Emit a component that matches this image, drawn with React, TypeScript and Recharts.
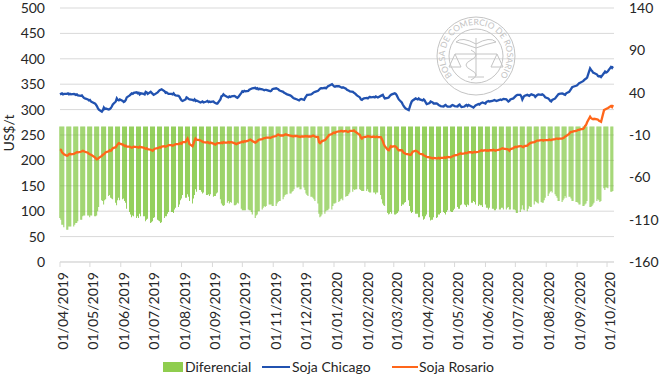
import React from 'react';
import { ComposedChart, Bar, Line, XAxis, YAxis, CartesianGrid } from 'recharts';

// Daily series, one value per trading day (Mon–Fri) starting 01/04/2019.
const seriesStart = '01/04/2019';

// Soja Chicago, US$/t
const sojaChicago = [
  330, 331, 332, 330, 331, 331, 332, 330, 331, 330, 331, 330, 329, 330, 328, 327, 328, 325, 323, 322,
  320, 318, 319, 316, 315, 312, 310, 307, 303, 300, 296, 299, 304, 301, 302, 300, 301, 303, 306, 310,
  316, 322, 319, 318, 320, 317, 315, 316, 319, 324, 328, 330, 332, 331, 333, 334, 332, 333, 330, 332,
  331, 330, 335, 334, 331, 335, 333, 331, 329, 330, 334, 336, 338, 339, 340, 336, 333, 334, 332, 331,
  331, 330, 332, 329, 328, 327, 325, 321, 318, 317, 320, 324, 323, 321, 320, 319, 318, 320, 317, 318,
  315, 314, 315, 316, 314, 316, 317, 315, 316, 315, 316, 314, 313, 312, 312, 320, 326, 327, 330, 328,
  325, 324, 326, 325, 326, 327, 326, 324, 323, 325, 333, 336, 335, 337, 336, 337, 339, 340, 341, 342,
  343, 341, 342, 340, 341, 340, 339, 338, 339, 339, 337, 336, 337, 340, 341, 342, 341, 340, 338, 337,
  335, 333, 332, 331, 330, 328, 327, 325, 323, 322, 320, 319, 318, 320, 321, 319, 323, 326, 329, 329,
  330, 331, 333, 334, 335, 337, 339, 341, 342, 342, 343, 342, 344, 346, 347, 350, 348, 346, 345, 346,
  346, 345, 344, 343, 344, 341, 339, 338, 337, 336, 335, 333, 332, 330, 328, 324, 320, 319, 321, 322,
  323, 322, 324, 325, 324, 325, 324, 326, 325, 324, 327, 328, 329, 325, 322, 323, 324, 327, 329, 330,
  332, 331, 328, 324, 320, 314, 310, 307, 304, 302, 299, 305, 311, 316, 318, 322, 321, 320, 322, 320,
  318, 320, 318, 314, 311, 313, 316, 315, 314, 312, 312, 311, 309, 308, 307, 306, 308, 309, 307, 306,
  306, 308, 309, 308, 307, 306, 309, 310, 307, 305, 306, 308, 309, 307, 309, 306, 305, 304, 306, 308,
  311, 310, 312, 313, 314, 312, 315, 316, 317, 316, 317, 318, 319, 318, 317, 319, 320, 319, 320, 321,
  320, 318, 316, 317, 320, 322, 324, 326, 328, 329, 329, 326, 320, 324, 327, 329, 328, 327, 329, 330,
  328, 325, 327, 329, 330, 329, 330, 329, 327, 324, 322, 320, 317, 316, 319, 322, 325, 327, 330, 331,
  332, 331, 330, 329, 332, 335, 338, 341, 344, 345, 347, 348, 350, 352, 353, 356, 358, 360, 361, 363,
  381, 378, 376, 373, 372, 369, 366, 365, 366, 364, 372, 375, 373, 374, 376, 384, 382, 385,
];

// Soja Rosario, US$/t
const sojaRosario = [
  222, 221, 216, 214, 212, 209, 210, 212, 213, 212, 213, 214, 215, 216, 216, 217, 218, 219, 218, 217,
  215, 213, 212, 211, 210, 206, 204, 202, 203, 205, 209, 211, 212, 214, 216, 218, 220, 219, 221, 224,
  226, 229, 232, 234, 233, 231, 230, 228, 229, 227, 227, 226, 225, 226, 227, 226, 226, 225, 227, 226,
  225, 224, 223, 224, 222, 221, 220, 219, 221, 223, 224, 225, 226, 225, 227, 228, 227, 228, 229, 230,
  230, 229, 230, 231, 232, 232, 233, 234, 233, 236, 236, 240, 243, 238, 232, 228, 233, 239, 243, 241,
  240, 239, 238, 237, 236, 235, 236, 235, 234, 235, 233, 232, 231, 233, 234, 234, 235, 234, 236, 235,
  235, 236, 235, 236, 236, 234, 233, 232, 233, 234, 236, 237, 236, 238, 237, 239, 240, 241, 240, 238,
  235, 236, 238, 240, 241, 242, 243, 244, 244, 245, 245, 244, 245, 246, 247, 248, 250, 251, 250, 249,
  249, 250, 251, 251, 250, 249, 248, 248, 247, 248, 248, 247, 247, 246, 247, 247, 248, 247, 248, 247,
  247, 248, 249, 248, 247, 246, 236, 234, 236, 238, 240, 242, 245, 247, 250, 252, 254, 255, 254, 256,
  257, 257, 258, 258, 257, 258, 257, 256, 257, 258, 258, 259, 257, 256, 254, 250, 245, 243, 245, 246,
  247, 248, 247, 247, 246, 247, 246, 246, 247, 246, 246, 242, 238, 232, 228, 221, 220, 224, 228, 227,
  228, 227, 225, 222, 220, 220, 218, 215, 214, 213, 212, 211, 211, 214, 217, 219, 218, 217, 215, 213,
  212, 210, 209, 208, 207, 206, 205, 205, 204, 205, 204, 204, 205, 204, 205, 205, 206, 205, 206, 207,
  206, 207, 208, 209, 210, 211, 212, 213, 214, 213, 214, 215, 214, 215, 216, 216, 215, 216, 217, 216,
  217, 218, 219, 220, 219, 220, 219, 220, 219, 220, 220, 221, 220, 219, 220, 221, 222, 223, 224, 223,
  222, 222, 221, 219, 222, 224, 226, 227, 226, 227, 228, 228, 227, 226, 228, 229, 231, 233, 234, 235,
  236, 237, 238, 239, 239, 240, 240, 239, 240, 240, 240, 241, 240, 240, 241, 242, 243, 243, 242, 243,
  243, 244, 245, 247, 248, 252, 255, 256, 256, 257, 258, 259, 260, 260, 261, 262, 264, 268, 270, 275,
  286, 283, 282, 281, 282, 281, 280, 278, 277, 276, 299, 300, 301, 302, 303, 307, 305, 309,
];

// Diferencial (Rosario − Chicago), US$/t
const diferencial = [
  -108, -110, -116, -116, -119, -122, -122, -118, -118, -118, -118, -116, -114, -114, -112, -110, -110, -106, -105, -105,
  -105, -105, -107, -105, -105, -106, -106, -105, -100, -95, -87, -88, -92, -87, -86, -82, -81, -84, -85, -86,
  -90, -93, -87, -84, -87, -86, -85, -88, -90, -97, -101, -104, -107, -105, -106, -108, -106, -108, -103, -106,
  -106, -106, -112, -110, -109, -114, -113, -112, -108, -107, -110, -111, -112, -114, -113, -108, -106, -106, -103, -101,
  -101, -101, -102, -98, -96, -95, -92, -87, -85, -81, -84, -84, -80, -83, -88, -91, -85, -81, -74, -77,
  -75, -75, -77, -79, -78, -81, -81, -80, -82, -80, -83, -82, -82, -79, -78, -86, -91, -93, -94, -93,
  -90, -88, -91, -89, -90, -93, -93, -92, -90, -91, -97, -99, -99, -99, -99, -98, -99, -99, -101, -104,
  -108, -105, -104, -100, -100, -98, -96, -94, -95, -94, -92, -92, -92, -94, -94, -94, -91, -89, -88, -88,
  -86, -83, -81, -80, -80, -79, -79, -77, -76, -74, -72, -72, -71, -74, -74, -72, -75, -79, -81, -82,
  -83, -83, -84, -86, -88, -91, -103, -107, -106, -104, -103, -100, -99, -99, -97, -98, -94, -91, -91, -90,
  -89, -88, -86, -85, -87, -83, -82, -82, -80, -78, -77, -74, -75, -74, -74, -74, -75, -76, -76, -76,
  -76, -74, -77, -78, -78, -78, -78, -80, -78, -78, -81, -86, -91, -93, -94, -102, -104, -103, -101, -103,
  -104, -104, -103, -102, -100, -94, -92, -92, -90, -89, -87, -94, -100, -102, -101, -103, -103, -103, -107, -107,
  -106, -110, -109, -106, -104, -107, -111, -110, -110, -107, -108, -107, -104, -104, -102, -101, -102, -104, -101, -99,
  -100, -101, -101, -99, -97, -95, -97, -97, -93, -92, -92, -93, -95, -92, -93, -90, -90, -88, -89, -92,
  -94, -92, -93, -93, -95, -92, -96, -96, -98, -96, -97, -97, -99, -99, -97, -98, -98, -96, -96, -98,
  -98, -96, -95, -98, -98, -98, -98, -99, -102, -102, -101, -98, -93, -98, -99, -100, -97, -94, -95, -95,
  -92, -88, -89, -90, -91, -89, -90, -90, -87, -84, -82, -79, -77, -76, -78, -80, -82, -84, -88, -88,
  -89, -87, -85, -82, -84, -83, -83, -85, -88, -88, -89, -89, -90, -92, -92, -94, -94, -92, -91, -88,
  -95, -95, -94, -92, -90, -88, -86, -87, -89, -88, -73, -75, -72, -72, -73, -77, -77, -76,
];

// Axis ticks
const monthTicks = [
  '01/04/2019', '01/05/2019', '01/06/2019', '01/07/2019', '01/08/2019', '01/09/2019', '01/10/2019',
  '01/11/2019', '01/12/2019', '01/01/2020', '01/02/2020', '01/03/2020', '01/04/2020', '01/05/2020',
  '01/06/2020', '01/07/2020', '01/08/2020', '01/09/2020', '01/10/2020',
];
const leftTicks = [0, 50, 100, 150, 200, 250, 300, 350, 400, 450, 500];
const rightTicks = [-160, -110, -60, -10, 40, 90, 140];

const DAY_MS = 86400000;
const FONT = "Lato, 'Open Sans', 'DejaVu Sans', sans-serif";
const TEXT_COLOR = '#262626';
const GRID_COLOR = '#d9d9d9';
const GREEN = '#72C02A';
const BLUE = '#2152B0';
const ORANGE = '#FF661A';

const parseDate = (s: string) => {
  const [dd, mm, yyyy] = s.split('/').map(Number);
  return Date.UTC(yyyy, mm - 1, dd);
};
const startMs = parseDate(seriesStart);
const dayOf = (s: string) => Math.round((parseDate(s) - startMs) / DAY_MS);

// calendar-day offsets of the trading days (weekends skipped)
const tradingDays: number[] = [];
for (let d = 0; tradingDays.length < sojaChicago.length; d++) {
  const dow = new Date(startMs + d * DAY_MS).getUTCDay();
  if (dow !== 0 && dow !== 6) tradingDays.push(d);
}

const data = tradingDays.map((day, i) => ({
  day,
  diferencial: diferencial[i],
  chicago: sojaChicago[i],
  rosario: sojaRosario[i],
}));

const tickDays = monthTicks.map(dayOf);
const labelByDay = new Map(tickDays.map((d, i) => [d, monthTicks[i]]));
const lastDay = tradingDays[tradingDays.length - 1] + 1;

const MonthTick = (props: any) => {
  const { x, y, payload } = props;
  const ty = y + 3;
  return (
    <text
      x={x}
      y={ty}
      dy={8}
      transform={`rotate(-90, ${x}, ${ty})`}
      textAnchor="end"
      fontSize={14}
      fontFamily={FONT}
      fill={TEXT_COLOR}
    >
      {labelByDay.get(payload.value) ?? ''}
    </text>
  );
};

// Institutional seal drawn faintly in the upper right of the plot
const Seal = ({ cx, cy }: { cx: number; cy: number }) => {
  const r = 31;
  const a1 = (120 * Math.PI) / 180;
  const a2 = (60 * Math.PI) / 180;
  const p1 = `${(cx + r * Math.cos(a1)).toFixed(2)},${(cy + r * Math.sin(a1)).toFixed(2)}`;
  const p2 = `${(cx + r * Math.cos(a2)).toFixed(2)},${(cy + r * Math.sin(a2)).toFixed(2)}`;
  const c = '#c4c4c4';
  return (
    <g fill="none" stroke={c} strokeWidth={1}>
      <circle cx={cx} cy={cy} r={39} />
      <circle cx={cx} cy={cy} r={27} />
      <path id="sealArc" d={`M ${p1} A ${r} ${r} 0 1 1 ${p2}`} stroke="none" />
      <text fontSize={8.5} fontFamily={FONT} fill={c} stroke="none">
        <textPath href="#sealArc" startOffset="50%" textAnchor="middle">
          BOLSA DE COMERCIO DE ROSARIO
        </textPath>
      </text>
      {/* caduceus */}
      <line x1={cx} y1={cy - 18} x2={cx} y2={cy + 20} />
      <path d={`M ${cx} ${cy - 12} q -14 -8 -20 -2 q 10 2 20 6`} />
      <path d={`M ${cx} ${cy - 12} q 14 -8 20 -2 q -10 2 -20 6`} />
      <path d={`M ${cx - 5} ${cy - 6} q 10 5 0 10 q -10 5 0 10 q 10 5 0 10`} />
      {/* scales */}
      <line x1={cx - 21} y1={cy - 2} x2={cx + 21} y2={cy - 2} />
      <path d={`M ${cx - 21} ${cy - 2} l -6 13 h 12 z`} />
      <path d={`M ${cx + 21} ${cy - 2} l -6 13 h 12 z`} />
      <path d={`M ${cx - 8} ${cy + 21} h 16`} />
    </g>
  );
};

const LegendRow = () => (
  <div
    style={{
      position: 'absolute',
      left: 0,
      top: 360,
      width: 660,
      height: 16,
      fontFamily: FONT,
      fontSize: 14,
      lineHeight: '14px',
      color: TEXT_COLOR,
    }}
  >
    <div style={{ position: 'absolute', left: 163, top: 2, width: 20, height: 10, background: '#8FCD4E' }} />
    <div style={{ position: 'absolute', left: 185, top: 0, whiteSpace: 'nowrap' }}>Diferencial</div>
    <div style={{ position: 'absolute', left: 262, top: 6, width: 28, height: 2, background: BLUE }} />
    <div style={{ position: 'absolute', left: 292, top: 0, whiteSpace: 'nowrap' }}>Soja Chicago</div>
    <div style={{ position: 'absolute', left: 392, top: 6, width: 26, height: 2, background: ORANGE }} />
    <div style={{ position: 'absolute', left: 419, top: 0, whiteSpace: 'nowrap' }}>Soja Rosario</div>
  </div>
);

export default function App() {
  const tickStyle = { fontSize: 14, fontFamily: FONT, fill: TEXT_COLOR };
  return (
    <div style={{ position: 'absolute', left: 0, top: 0, width: 660, height: 375, background: '#fff' }}>
      <ComposedChart width={660} height={375} data={data} margin={{ top: 8, right: 0, bottom: 0, left: 0 }}>
        <CartesianGrid yAxisId="left" vertical={false} stroke={GRID_COLOR} strokeWidth={1} />
        <XAxis
          dataKey="day"
          type="number"
          domain={[0, lastDay]}
          ticks={tickDays}
          interval={0}
          height={113}
          tick={<MonthTick />}
          tickSize={5}
          tickMargin={2}
          axisLine={{ stroke: GRID_COLOR }}
          tickLine={{ stroke: GRID_COLOR }}
        />
        <YAxis
          yAxisId="left"
          orientation="left"
          width={60}
          domain={[0, 500]}
          ticks={leftTicks}
          interval={0}
          axisLine={false}
          tickLine={false}
          tickSize={0}
          tickMargin={15}
          tick={tickStyle}
        />
        <YAxis
          yAxisId="right"
          orientation="right"
          width={46}
          domain={[-160, 140]}
          ticks={rightTicks}
          interval={0}
          axisLine={false}
          tickLine={false}
          tickSize={0}
          tickMargin={15}
          tick={{ ...tickStyle, textAnchor: 'start' }}
        />
        <Bar yAxisId="right" dataKey="diferencial" fill={GREEN} barSize={0.75} isAnimationActive={false} />
        <Line
          yAxisId="left"
          dataKey="chicago"
          stroke={BLUE}
          strokeWidth={2.3}
          dot={false}
          activeDot={false}
          isAnimationActive={false}
        />
        <Line
          yAxisId="left"
          dataKey="rosario"
          stroke={ORANGE}
          strokeWidth={2.3}
          dot={false}
          activeDot={false}
          isAnimationActive={false}
        />
      </ComposedChart>
      <svg
        width={660}
        height={375}
        style={{ position: 'absolute', left: 0, top: 0, pointerEvents: 'none' }}
      >
        <text
          x={14}
          y={133}
          transform="rotate(-90, 14, 133)"
          textAnchor="middle"
          fontSize={14}
          fontFamily={FONT}
          fill={TEXT_COLOR}
        >
          US$/t
        </text>
        <Seal cx={476} cy={56} />
      </svg>
      <LegendRow />
    </div>
  );
}
